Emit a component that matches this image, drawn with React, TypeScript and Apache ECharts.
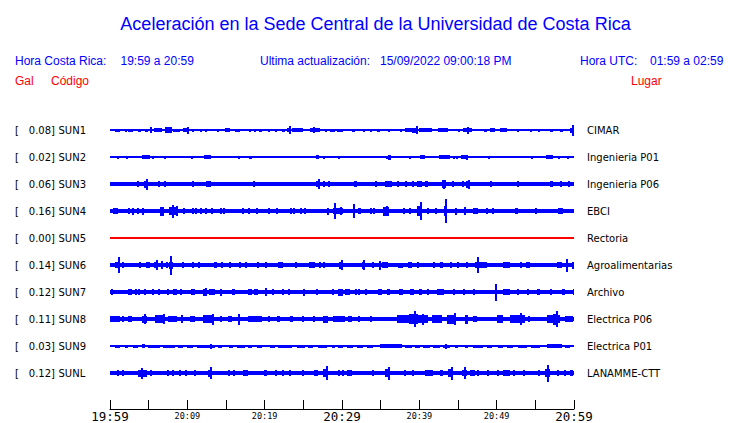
import React, { useEffect, useRef } from "react";
import * as echarts from "echarts";

const TITLE = "Aceleración en la Sede Central de la Universidad de Costa Rica";
const HORA_CR_LABEL = "Hora Costa Rica:";
const HORA_CR = "19:59 a 20:59";
const ULTIMA_LABEL = "Ultima actualización:";
const ULTIMA = "15/09/2022 09:00:18 PM";
const HORA_UTC_LABEL = "Hora UTC:";
const HORA_UTC = "01:59 a 02:59";

const STATIONS = ["SUN1", "SUN2", "SUN3", "SUN4", "SUN5", "SUN6", "SUN7", "SUN8", "SUN9", "SUNL"];
const PEAK_GAL = ["0.08", "0.02", "0.06", "0.16", "0.00", "0.14", "0.12", "0.11", "0.03", "0.12"];
const PLACES = [
  "CIMAR", "Ingenieria P01", "Ingenieria P06", "EBCI", "Rectoria",
  "Agroalimentarias", "Archivo", "Electrica P06", "Electrica P01", "LANAMME-CTT",
];
const TIME_TICKS = ["19:59", "20:04", "20:09", "20:14", "20:19", "20:24", "20:29", "20:34", "20:39", "20:44", "20:49", "20:54", "20:59"];

// Baseline (background noise) half-amplitude of each trace, in 1/27 of trace spacing
const BASE_AMP = [0.7, 0.6, 2.0, 2.1, 0.6, 1.8, 2.0, 2.4, 0.7, 2.0];

// Events: [start minute, end minute, half-amplitude] (minutes after 19:59)
const SUN1 = [[0.65,1.29,1.5],[1.94,1.94,1.5],[2.37,3.0,1.5],[3.66,4.0,1.5],[4.5,4.95,1.5],[5.17,5.17,3],[5.73,6.68,1.8],[7.1,7.98,2.8],[8.19,9.05,1.5],[9.48,10.1,2],[9.91,9.91,3.5],[10.65,10.65,1.5],[11.64,11.64,1.5],[12.28,12.28,1.5],[13.79,13.79,1.5],[14.87,15.52,2],[16.16,16.81,1.5],[17.97,17.97,1.5],[18.67,18.67,1.5],[19.27,19.7,1.5],[20.39,20.69,1.5],[21.34,21.34,1.5],[22.2,22.6,1.5],[22.85,23.28,2.2],[23.19,23.19,4],[23.49,25.0,1.8],[25.86,27.16,1.8],[26.29,26.29,3],[27.8,27.8,1.5],[28.45,29.1,1.5],[29.3,30.17,1.5],[31.25,31.69,1.5],[32.76,32.76,1.5],[33.62,33.62,1.5],[34.5,34.9,1.5],[36.0,36.0,1.5],[37.5,37.5,1.5],[38.15,39.0,1.8],[39.0,39.74,2.5],[39.57,39.57,4],[39.96,41.6,1.8],[42.46,43.75,1.8],[45.04,45.04,1.5],[45.7,46.77,2],[46.2,46.2,3.5],[48.36,48.71,1.5],[49.14,49.78,2.2],[50.43,51.3,1.8],[52.59,52.59,1.5],[54.3,54.3,1.5],[55.39,55.39,1.5],[56.9,57.33,1.5],[58.2,58.6,1.5],[59.48,60,2.5],[59.7,59.7,5.5]];
const SUN2 = [[0.86,0.86,1.5],[2.03,2.03,1.5],[2.89,2.89,1],[4.18,5.17,2],[5.47,5.47,1.5],[7.03,7.03,1.5],[10.47,10.47,1.5],[12.2,13.06,2],[15.65,15.65,1],[16.6,16.6,1.5],[17.98,18.32,1.5],[22.76,22.76,1],[24.78,24.78,1],[26.6,27.03,2],[27.5,27.5,1.5],[29.53,29.53,1.5],[30.26,30.26,1],[35.7,35.7,1.5],[36.0,36.4,2.5],[38.15,38.15,1],[38.6,38.8,1.5],[39.3,39.3,1],[40.1,40.7,1.8],[42.6,44.0,2],[44.4,44.4,1.5],[44.8,44.8,1.5],[45.4,46.3,1.8],[46.0,46.0,2.5],[48.1,48.1,1],[48.9,48.9,1.5],[53.67,53.67,1],[54.5,54.5,1.5],[56.4,57.3,2],[57.9,57.9,1.5],[59.1,59.1,1.5],[59.5,59.5,1]];
const SUN3 = [[3.45,3.45,3],[4.44,4.87,3.5],[4.61,4.61,5.5],[6.16,6.16,3],[7.03,7.03,2.8],[10.56,10.56,2.8],[12.37,13.06,3.2],[18.53,18.53,2.8],[26.7,27.2,3],[26.94,26.94,5],[27.58,27.58,2.8],[28.15,28.15,2.8],[31.5,31.9,3],[34.27,34.27,3],[35.56,36.42,3],[37.07,37.07,2.8],[38.15,38.4,3],[39.0,39.0,3],[39.65,40.3,3.2],[40.73,41.16,3],[42.89,43.5,4],[43.1,43.1,4.5],[44.18,44.18,2.8],[45.5,45.8,3],[46.04,46.55,3.5],[46.3,46.3,4.5],[49.2,49.2,2.8],[52.6,52.6,2.8],[56.9,57.33,3.2],[58.2,58.2,2.8],[59.2,59.2,3]];
const SUN4 = [[0.43,0.99,3.2],[2.28,2.28,3],[2.89,2.89,3.5],[3.53,3.53,3],[4.18,4.18,3.5],[6.47,7.03,4.5],[7.67,8.62,4],[7.97,7.97,6.5],[8.53,8.53,5],[9.48,9.48,2.8],[10.65,10.65,3],[11.0,11.0,2.8],[11.64,11.64,3],[12.28,12.28,2.8],[13.06,13.06,2.8],[14.22,14.22,2.8],[14.65,14.65,2.8],[17.03,17.24,3.2],[17.89,17.89,3],[18.88,18.88,3.2],[20.48,20.48,3],[21.42,21.42,3],[23.27,23.27,2.8],[23.62,23.92,3.2],[24.57,24.57,3.2],[25.13,25.13,2.8],[28.0,28.0,3.5],[28.8,30.17,3.2],[29.0,29.0,8],[29.8,29.8,4],[31.38,31.38,7],[32.11,32.42,3.2],[33.62,33.62,3],[34.05,34.05,2.8],[35.26,36.12,4.5],[35.7,35.7,5],[37.84,37.84,2.8],[38.71,38.71,2.8],[39.65,40.17,5],[40.09,40.09,9],[40.95,41.3,3.2],[42.03,42.03,3],[43.2,43.45,5],[43.32,43.32,12],[44.6,44.8,3.5],[45.77,45.77,4],[46.98,47.63,2.8],[48.62,48.62,3],[49.35,49.35,2.8],[52.37,52.8,3],[54.96,54.96,2.8],[57.97,58.54,3]];
const SUN5: number[][] = [];
const SUN6 = [[0.65,1.08,2.8],[1.0,1.0,8],[1.6,1.6,3],[3.79,3.79,2.8],[4.61,4.61,2.8],[4.96,4.96,2.8],[5.73,6.25,3.2],[5.95,5.95,5],[6.6,6.6,4],[7.24,7.46,3],[7.67,8.19,3.5],[7.8,7.8,9.5],[9.27,9.27,2.8],[10.65,10.9,3.2],[11.34,11.34,2.8],[13.49,13.79,3],[14.31,14.31,2.8],[15.43,15.43,2.8],[16.73,16.73,2.8],[17.46,17.46,2.8],[18.97,18.97,3],[20.0,20.0,2.8],[21.77,22.41,2.8],[23.92,23.92,2.8],[25.77,26.5,2.8],[27.0,27.0,2.8],[27.58,27.58,2.8],[29.65,30.17,3.5],[29.9,29.9,5],[32.55,32.85,3.5],[32.7,32.7,5],[33.84,33.84,2.8],[34.83,34.83,4.5],[35.13,35.99,3],[37.28,37.93,2.5],[38.58,39.0,3],[39.74,39.74,3],[41.73,41.73,2.8],[42.68,43.1,2.8],[43.96,43.96,2.8],[44.83,44.83,2.8],[46.03,46.03,2.8],[47.2,48.71,3],[47.46,47.46,8],[50.86,51.7,2.8],[52.98,52.98,2.8],[53.84,54.27,2.8],[57.76,58.4,3.2],[58.96,58.96,6.5],[59.7,60,3.5]];
const SUN7 = [[0.13,0.13,2.8],[2.37,2.8,3],[3.23,3.23,2.8],[3.66,3.66,2.8],[4.44,4.44,2.8],[5.39,5.39,3.2],[6.25,6.25,2.8],[7.33,7.33,2.8],[8.19,8.62,3],[9.05,9.35,3.2],[10.47,10.99,3],[12.07,12.5,3.5],[12.3,12.3,4],[12.8,13.58,3],[14.22,14.53,3.5],[15.73,16.16,3],[17.89,18.32,3],[18.67,19.18,3],[20.04,20.04,4],[20.9,21.12,3],[22.2,22.2,2.8],[22.97,22.97,2.8],[25.0,25.0,3.5],[26.6,26.6,2.8],[28.67,28.67,2.8],[29.44,30.17,3.5],[30.39,31.03,3],[31.68,31.68,2.8],[32.11,32.11,2.8],[32.97,32.97,2.8],[34.7,35.13,3],[35.78,36.2,3],[37.41,37.93,3],[38.8,39.31,3],[39.96,40.3,2.8],[41.03,41.03,2.8],[42.33,43.19,3],[44.4,44.4,2.8],[45.69,45.69,2.8],[46.98,46.98,2.8],[49.8,49.8,8.5],[50.86,51.7,3],[52.59,52.59,2.8],[53.89,53.89,2.8],[55.16,55.6,3],[56.9,56.9,2.8],[58.41,58.84,3],[59.83,60,3]];
const SUN8 = [[0,1.29,3.2],[1.51,1.51,3],[2.37,2.8,3],[4.1,4.74,3.5],[4.44,4.44,5],[5.82,6.9,3.8],[6.9,6.9,5],[7.46,8.62,3.2],[9.18,9.18,4],[10.34,10.99,3],[12.07,13.36,3.8],[13.15,13.15,5.5],[14.22,14.22,3],[15.3,15.73,3],[16.6,16.6,5.5],[17.89,19.61,3],[20.48,20.48,3],[21.55,21.98,3],[23.27,23.7,3],[24.78,24.78,3],[26.29,26.29,3],[27.58,28.15,3.5],[28.8,30.39,3.2],[30.82,31.25,3],[32.11,32.11,3],[33.62,33.62,3],[37.07,41.16,4.2],[38.6,39.8,5],[39.31,39.31,8],[40.3,40.3,5.5],[41.65,42.94,3.8],[43.58,44.66,4.5],[44.5,44.5,6],[45.91,46.34,4.5],[46.98,47.41,3.2],[50.04,50.86,4.2],[51.7,53.63,4],[53.0,53.0,6],[54.1,54.1,3],[56.48,58.2,4.2],[57.3,57.9,5.5],[57.68,57.68,8],[58.84,59.91,3.2]];
const SUN9 = [[0.65,1.29,1.5],[1.94,2.37,1.5],[3.02,3.58,1.5],[4.1,4.53,2],[4.96,6.47,1.5],[6.9,8.41,1.5],[8.84,9.48,1.5],[9.91,10.78,1.5],[11.21,13.58,1.5],[12.9,12.9,2.5],[14.01,14.44,1.5],[15.39,15.95,1.5],[16.38,17.46,1.5],[17.8,18.32,1.5],[18.97,19.61,1.5],[20.69,21.34,1.5],[21.77,23.49,1.5],[24.14,25.22,1.5],[25.65,26.29,1.5],[26.94,28.02,1.5],[28.67,29.1,1.5],[29.53,30.17,1.5],[30.6,31.47,1.5],[31.9,32.76,1.5],[33.19,34.05,1.5],[34.91,37.71,1.8],[38.15,39.0,1.5],[39.44,40.09,1.5],[40.52,41.38,1.5],[41.81,42.68,1.5],[43.1,43.97,1.5],[43.3,43.3,2.5],[44.61,45.04,1.5],[45.91,46.34,1.5],[46.98,48.27,1.5],[48.71,49.35,1.5],[50.22,50.86,1.5],[51.3,52.16,1.5],[52.8,53.89,1.5],[54.5,55.6,1.5],[56.48,58.41,1.8],[58.84,59.48,1.5]];
const SUNL = [[0.86,0.86,2.8],[1.51,1.85,3],[3.66,4.74,3.5],[4.01,4.01,5.5],[5.17,5.17,2.8],[7.33,7.33,2.8],[7.97,7.97,2.8],[8.92,9.18,2.8],[9.7,9.7,2.8],[10.9,10.9,3],[12.71,13.15,3.5],[12.97,12.97,6],[15.3,15.3,2.8],[15.95,15.95,2.8],[17.24,17.89,3],[19.96,20.26,3],[21.34,21.34,2.8],[22.2,22.2,2.8],[23.19,23.19,3],[24.78,24.78,2.8],[26.42,26.94,3],[27.58,28.23,4],[27.89,27.89,7],[29.53,29.53,2.8],[30.05,30.17,3],[30.6,31.25,3],[33.84,33.84,2.8],[35.56,36.2,4],[36.0,36.0,6.5],[38.02,38.02,2.8],[39.0,39.0,2.8],[40.73,41.81,3],[42.68,43.1,3],[43.75,44.4,4],[44.1,44.1,6.5],[45.48,46.12,3.2],[45.78,45.78,6],[46.55,47.2,3],[47.41,47.41,2.8],[48.71,48.71,2.8],[50.0,50.0,2.8],[50.86,51.7,3],[52.16,52.16,2.8],[53.36,53.36,2.8],[55.39,55.39,2.8],[56.26,56.9,4],[56.55,56.55,8.5],[57.8,57.8,2.8],[58.76,58.76,2.8],[59.5,59.9,3]];

const EVENTS = [SUN1, SUN2, SUN3, SUN4, SUN5, SUN6, SUN7, SUN8, SUN9, SUNL];
const TRACE_COLORS = ["#0000ff", "#0000ff", "#0000ff", "#0000ff", "#ff0000", "#0000ff", "#0000ff", "#0000ff", "#0000ff", "#0000ff"];

const AMP_PER_ROW = 27;
const BLUE = "#0000ff";
const RED = "#ff0000";

export default function App() {
  const ref = useRef<HTMLDivElement>(null);

  useEffect(() => {
    if (!ref.current) return;
    const chart = echarts.init(ref.current, null, { renderer: "svg" });

    const series = STATIONS.map((name, i) => {
      const data = [[i, 0, 60, BASE_AMP[i]], ...EVENTS[i].map((e) => [i, e[0], e[1], e[2]])];
      const color = TRACE_COLORS[i];
      return {
        type: "custom",
        name,
        clip: true,
        silent: true,
        dimensions: ["trace", "t0", "t1", "amp"],
        encode: { x: [1, 2], y: 0 },
        data,
        renderItem: (params: any, api: any) => {
          const tr = api.value(0);
          const t0 = api.value(1);
          const t1 = api.value(2);
          const a = api.value(3) / AMP_PER_ROW;
          const p0 = api.coord([t0, tr - a]);
          const p1 = api.coord([t1, tr + a]);
          const xa = Math.min(p0[0], p1[0]);
          const xb = Math.max(p0[0], p1[0]);
          let x0 = Math.round(xa);
          let x1 = Math.round(xb);
          if (x1 - x0 < 2) x1 = x0 + 2;
          const ya = Math.min(p0[1], p1[1]);
          const yb = Math.max(p0[1], p1[1]);
          let y0 = Math.round(ya);
          let y1 = Math.round(yb);
          if (y1 - y0 < 1) y1 = y0 + 1;
          return {
            type: "rect",
            shape: { x: x0, y: y0, width: x1 - x0, height: y1 - y0 },
            style: { fill: color },
          };
        },
      };
    });

    chart.setOption({
      animation: false,
      backgroundColor: "#ffffff",
      grid: { left: 110, width: 464, top: 116.5, height: 292.5 },
      xAxis: {
        type: "value",
        min: 0,
        max: 60,
        interval: 5,
        axisLine: { show: true, onZero: false, lineStyle: { color: "#000", width: 1 } },
        axisTick: { show: true, inside: true, length: 9, lineStyle: { color: "#000", width: 1 } },
        splitLine: { show: false },
        axisLabel: {
          show: true,
          margin: 1,
          showMinLabel: true,
          showMaxLabel: true,
          hideOverlap: false,
          formatter: (v: number) => {
            const idx = Math.round(v / 5);
            if (idx % 2 !== 0) return "";
            const lbl = TIME_TICKS[idx];
            return idx % 6 === 0 ? `{b|${lbl}}` : `{s|${lbl}}`;
          },
          rich: {
            b: { fontFamily: "DejaVu Sans Mono", fontSize: 12.5, color: "#000" },
            s: { fontFamily: "DejaVu Sans Mono", fontSize: 8.5, color: "#000", padding: [1, 0, 0, 0] },
          },
        },
      },
      yAxis: {
        type: "value",
        inverse: true,
        min: -0.5,
        max: 10.3333,
        show: false,
        splitLine: { show: false },
      },
      series,
    });

    const ys = STATIONS.map((_, i) => chart.convertToPixel({ xAxisIndex: 0, yAxisIndex: 0 }, [0, i])[1]);
    const stationFont = { fontFamily: "DejaVu Sans", fontSize: 10, fill: "#000" };
    const headFont = { fontFamily: "Liberation Sans", fontSize: 12, fill: BLUE };

    const graphic: any[] = [
      { type: "text", x: 375.5, y: 23.5, style: { text: TITLE, fontFamily: "Liberation Sans", fontSize: 18, fill: BLUE, align: "center", verticalAlign: "middle" } },
      { type: "text", x: 15, y: 60.5, style: { ...headFont, text: HORA_CR_LABEL, verticalAlign: "middle" } },
      { type: "text", x: 120.5, y: 60.5, style: { ...headFont, text: HORA_CR, verticalAlign: "middle" } },
      { type: "text", x: 260, y: 60.5, style: { ...headFont, text: ULTIMA_LABEL, verticalAlign: "middle" } },
      { type: "text", x: 380, y: 60.5, style: { ...headFont, text: ULTIMA, verticalAlign: "middle" } },
      { type: "text", x: 580, y: 60.5, style: { ...headFont, text: HORA_UTC_LABEL, verticalAlign: "middle" } },
      { type: "text", x: 650, y: 60.5, style: { ...headFont, text: HORA_UTC, verticalAlign: "middle" } },
      { type: "text", x: 15, y: 80.5, style: { ...headFont, fill: RED, text: "Gal", verticalAlign: "middle" } },
      { type: "text", x: 51, y: 80.5, style: { ...headFont, fill: RED, text: "Código", verticalAlign: "middle" } },
      { type: "text", x: 631, y: 80.5, style: { ...headFont, fill: RED, text: "Lugar", verticalAlign: "middle" } },
    ];
    STATIONS.forEach((name, i) => {
      const y = ys[i];
      graphic.push(
        { type: "text", x: 15, y, style: { ...stationFont, text: "[", verticalAlign: "middle" } },
        { type: "text", x: 55, y, style: { ...stationFont, text: `${PEAK_GAL[i]}]`, align: "right", verticalAlign: "middle" } },
        { type: "text", x: 58.5, y, style: { ...stationFont, text: name, verticalAlign: "middle" } },
        { type: "text", x: 587, y, style: { ...stationFont, text: PLACES[i], verticalAlign: "middle" } },
      );
    });
    chart.setOption({ graphic });

    return () => chart.dispose();
  }, []);

  return (
    <div
      ref={ref}
      style={{ position: "fixed", left: 0, top: 0, width: 740, height: 423, background: "#fff" }}
    />
  );
}
